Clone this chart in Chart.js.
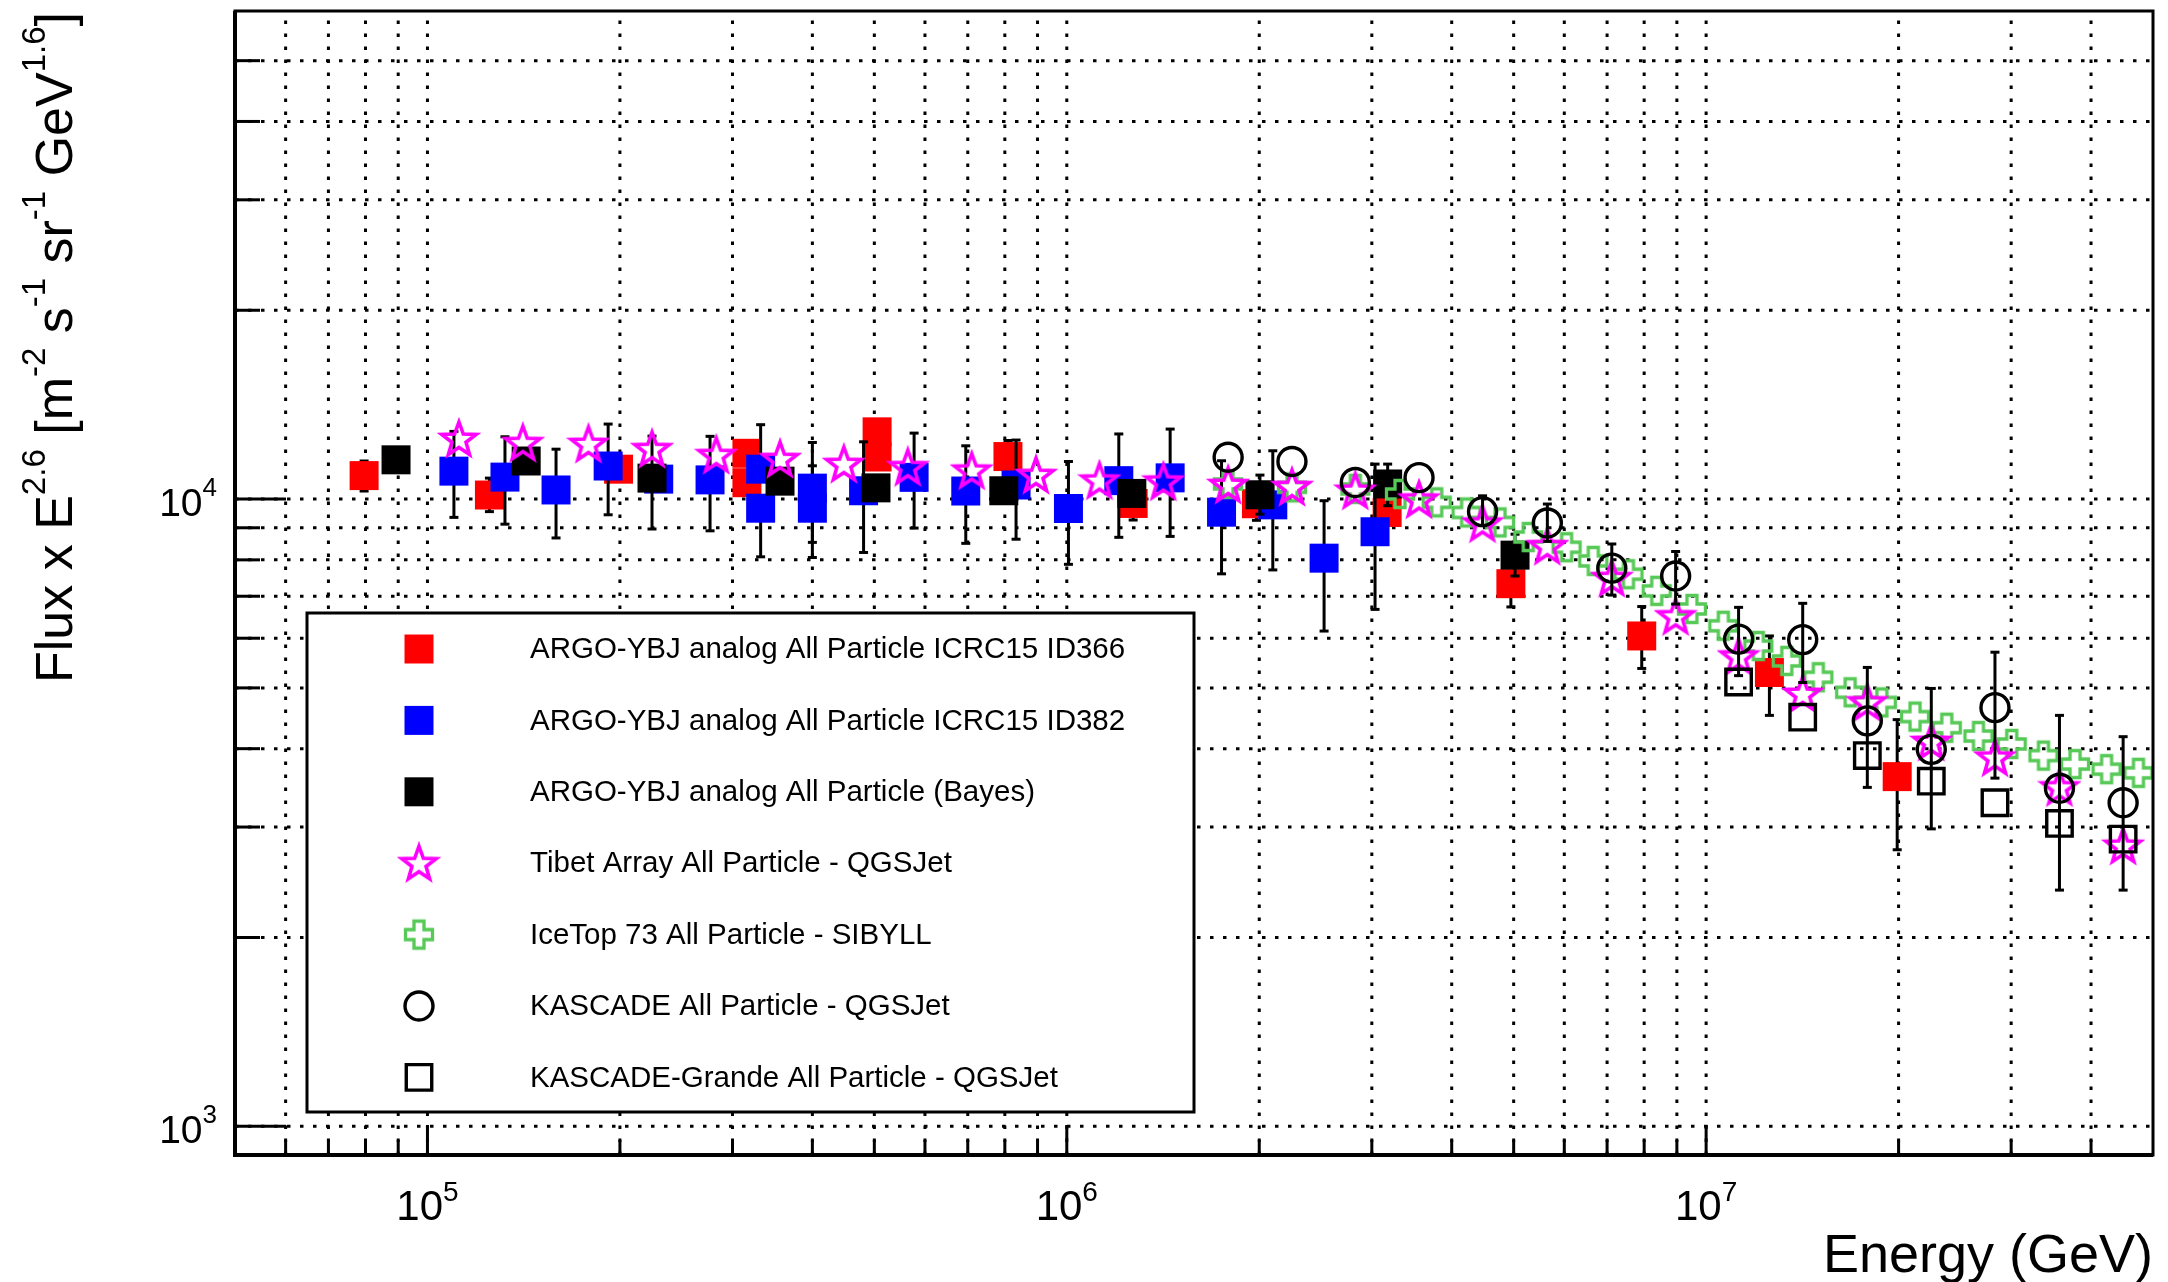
<!DOCTYPE html>
<html>
<head>
<meta charset="utf-8">
<script src="https://cdn.jsdelivr.net/npm/chart.js@4.4.0/dist/chart.umd.min.js"></script>
<style>
  html, body { margin: 0; padding: 0; background: #fff; }
</style>
</head>
<body>
<canvas id="fluxChart" width="2168" height="1282"></canvas>
<script>
// Energy in GeV, flux x E^2.6 ; lo/hi are the error bar ends (null = no bar visible)
const redE    = [7.96e4, 1.25e5, 1.99e5, 3.16e5, 3.16e5, 5.05e5, 5.05e5, 8.09e5, 1.27e6, 1.98e6, 3.17e6, 4.95e6, 7.93e6, 1.256e7, 1.99e7];
const redFlux = [10900, 10150, 11160, 11830, 10620, 12800, 11670, 11690, 9840, 9830, 9520, 7330, 6050, 5290, 3610];
const redLo   = [10300, 9550, null, null, null, null, null, null, 9260, 9250, null, 6730, 5370, 4520, 2760];
const redHi   = [11500, 10800, null, null, null, null, null, 12400, null, null, null, null, 6740, 6050, 4450];

const blueE    = [1.10e5, 1.322e5, 1.589e5, 1.917e5, 2.30e5, 2.767e5, 3.32e5, 3.32e5, 4.0e5, 4.0e5, 4.81e5, 5.77e5, 6.95e5, 8.33e5, 1.006e6, 1.206e6, 1.451e6, 1.746e6, 2.1e6, 2.526e6, 3.035e6];
const blueFlux = [11080, 10840, 10340, 11290, 10760, 10730, 11160, 9670, 10410, 9670, 10310, 10830, 10300, 10530, 9660, 10700, 10810, 9530, 9790, 8050, 8870];
const blueLo   = [9350, 9120, 8670, 9440, null, 8900, null, 8090, 8530, 8070, 8220, 8990, 8500, 8630, 7870, 8690, 8720, 7600, 7710, 6160, 6670];
const blueHi   = [12820, 12570, 12010, 13170, null, 12590, 13140, null, 12310, 11300, 12340, 12740, 12160, 12420, 11480, 12700, 12930, 11510, 11940, 9940, 11370];

const bayesE    = [8.93e4, 1.427e5, 2.245e5, 3.56e5, 5.03e5, 7.97e5, 1.264e6, 2.005e6, 3.176e6, 5.025e6];
const bayesFlux = [11550, 11500, 10800, 10680, 10420, 10310, 10210, 10160, 10570, 8140];
const bayesLo   = [null, null, 8960, null, null, null, null, 9460, 9760, 7540];
const bayesHi   = [null, null, 12600, null, null, null, null, 10920, 11370, 8790];

const tibetE    = [1.12e5, 1.41e5, 1.786e5, 2.245e5, 2.83e5, 3.56e5, 4.48e5, 5.64e5, 7.1e5, 8.95e5, 1.125e6, 1.416e6, 1.788e6, 2.25e6, 2.827e6, 3.556e6, 4.47e6, 5.645e6, 7.12e6, 8.96e6, 1.124e7, 1.416e7, 1.787e7, 2.25e7, 2.83e7, 3.57e7, 4.49e7];
const tibetFlux = [12470, 12280, 12240, 12010, 11750, 11580, 11370, 11240, 11100, 10920, 10700, 10660, 10530, 10450, 10310, 9980, 9140, 8410, 7480, 6500, 5610, 4890, 4740, 4100, 3870, 3470, 2800];

const iceTopE    = [1.787e6, 2.25e6, 2.827e6, 3.32e6, 3.79e6, 4.22e6, 4.76e6, 5.27e6, 6.05e6, 6.66e6, 7.56e6, 8.37e6, 9.50e6, 1.064e7, 1.207e7, 1.337e7, 1.498e7, 1.680e7, 1.883e7, 2.122e7, 2.379e7, 2.667e7, 3.006e7, 3.37e7, 3.776e7, 4.23e7, 4.745e7];
const iceTopFlux = [10570, 10440, 10380, 10190, 9880, 9520, 9180, 8700, 8380, 7970, 7590, 7140, 6680, 6280, 5830, 5520, 5200, 4920, 4740, 4500, 4320, 4190, 4070, 3900, 3780, 3710, 3660];

const kascadeE    = [1.788e6, 2.25e6, 2.827e6, 3.556e6, 4.47e6, 5.645e6, 7.12e6, 8.96e6, 1.124e7, 1.416e7, 1.787e7, 2.25e7, 2.83e7, 3.57e7, 4.49e7];
const kascadeFlux = [11660, 11480, 10630, 10820, 9550, 9160, 7760, 7540, 5980, 5970, 4430, 3990, 4650, 3460, 3280];
const kascadeLo   = [null, null, null, null, 9070, 8560, 7030, 6800, 5230, 5100, 3470, 2980, 3590, 2380, 2380];
const kascadeHi   = [null, null, null, null, 10120, 9820, 8480, 8250, 6720, 6820, 5390, 4990, 5700, 4520, 4180];

const grandeE    = [1.124e7, 1.416e7, 1.787e7, 2.25e7, 2.83e7, 3.57e7, 4.49e7];
const grandeFlux = [5110, 4490, 3900, 3550, 3280, 3040, 2870];

const legendLabels = [
  'ARGO-YBJ analog All Particle ICRC15 ID366',
  'ARGO-YBJ analog All Particle ICRC15 ID382',
  'ARGO-YBJ analog All Particle (Bayes)',
  'Tibet Array All Particle - QGSJet',
  'IceTop 73 All Particle - SIBYLL',
  'KASCADE All Particle - QGSJet',
  'KASCADE-Grande All Particle - QGSJet'
];
const xMajor = [1e5, 1e6, 1e7];
const yMajor = [1e3, 1e4];

const FONT = '"Liberation Sans", Arial, Helvetica, sans-serif';

// grid/tick positions: every 1..9 x 10^n inside the frame
const xGrid = [];
const yGrid = [];
for (let e = 2; e <= 7; e++) {
  for (let m = 1; m <= 9; m++) {
    const v = m * Math.pow(10, e);
    if (v > 5e4 * 1.001 && v < 5e7 * 0.999) xGrid.push(v);
    if (v > 900 * 1.001 && v < 6e4 * 0.999) yGrid.push(v);
  }
}
const isMajor = v => Math.abs(Math.log10(v) - Math.round(Math.log10(v))) < 1e-6;

const pts = (xs, ys) => xs.map((x, i) => ({ x: x, y: ys[i] }));

// open star (ROOT marker 30)
function makeStar() {
  const c = document.createElement('canvas');
  c.width = 44; c.height = 44;
  const g = c.getContext('2d');
  g.strokeStyle = '#ff00ff';
  g.lineWidth = 3.6;
  g.lineJoin = 'miter';
  g.beginPath();
  for (let k = 0; k < 10; k++) {
    const r = k % 2 === 0 ? 18 : 7.4;
    const a = -Math.PI / 2 + k * Math.PI / 5;
    const px = 22 + r * Math.cos(a), py = 23 + r * Math.sin(a);
    if (k === 0) g.moveTo(px, py); else g.lineTo(px, py);
  }
  g.closePath();
  g.stroke();
  return c;
}
// open cross (ROOT marker 28)
function makeCross() {
  const c = document.createElement('canvas');
  c.width = 36; c.height = 36;
  const g = c.getContext('2d');
  g.strokeStyle = '#57c957';
  g.lineWidth = 3.3;
  const h = 13.5, a = 5, o = 18;
  const p = [[-a,-h],[a,-h],[a,-a],[h,-a],[h,a],[a,a],[a,h],[-a,h],[-a,a],[-h,a],[-h,-a],[-a,-a]];
  g.beginPath();
  p.forEach((q, i) => i ? g.lineTo(o + q[0], o + q[1]) : g.moveTo(o + q[0], o + q[1]));
  g.closePath();
  g.stroke();
  return c;
}
const starImg = makeStar();
const crossImg = makeCross();

const datasets = [
  { label: legendLabels[0], data: pts(redE, redFlux), errLo: redLo, errHi: redHi, order: 7,
    pointStyle: 'rect', pointRadius: 20.5, backgroundColor: '#ff0000', borderWidth: 0 },
  { label: legendLabels[1], data: pts(blueE, blueFlux), errLo: blueLo, errHi: blueHi, order: 6,
    pointStyle: 'rect', pointRadius: 20.5, backgroundColor: '#0000ff', borderWidth: 0 },
  { label: legendLabels[2], data: pts(bayesE, bayesFlux), errLo: bayesLo, errHi: bayesHi, order: 5,
    pointStyle: 'rect', pointRadius: 20.5, backgroundColor: '#000000', borderWidth: 0 },
  { label: legendLabels[3], data: pts(tibetE, tibetFlux), order: 3,
    pointStyle: starImg, pointRadius: 18 },
  { label: legendLabels[4], data: pts(iceTopE, iceTopFlux), order: 4,
    pointStyle: crossImg, pointRadius: 15 },
  { label: legendLabels[5], data: pts(kascadeE, kascadeFlux), errLo: kascadeLo, errHi: kascadeHi, order: 2,
    pointStyle: 'circle', pointRadius: 14, backgroundColor: 'rgba(0,0,0,0)', borderColor: '#000', borderWidth: 3.4 },
  { label: legendLabels[6], data: pts(grandeE, grandeFlux), order: 1,
    pointStyle: 'rect', pointRadius: 18, backgroundColor: 'rgba(0,0,0,0)', borderColor: '#000', borderWidth: 3.4 }
];

function line(ctx, x1, y1, x2, y2) {
  ctx.beginPath(); ctx.moveTo(x1, y1); ctx.lineTo(x2, y2); ctx.stroke();
}

function drawPow(ctx, exp, x, y, size, supSize, raise, align) {
  ctx.font = size + 'px ' + FONT;
  const w1 = ctx.measureText('10').width;
  ctx.font = supSize + 'px ' + FONT;
  const w2 = ctx.measureText(exp).width;
  const x0 = align === 'center' ? x - (w1 + w2) / 2 : x - (w1 + w2);
  ctx.textAlign = 'left';
  ctx.textBaseline = 'alphabetic';
  ctx.font = size + 'px ' + FONT;
  ctx.fillText('10', x0, y);
  ctx.font = supSize + 'px ' + FONT;
  ctx.fillText(exp, x0 + w1, y - raise);
}

function drawMarker(ctx, ds, x, y) {
  const st = ds.pointStyle, r = ds.pointRadius;
  if (st instanceof HTMLCanvasElement) {
    ctx.drawImage(st, x - st.width / 2, y - st.height / 2);
    return;
  }
  ctx.fillStyle = ds.backgroundColor;
  ctx.strokeStyle = ds.borderColor || '#000';
  ctx.lineWidth = ds.borderWidth;
  ctx.beginPath();
  if (st === 'circle') ctx.arc(x, y, r, 0, Math.PI * 2);
  else { const s = Math.SQRT1_2 * r; ctx.rect(x - s, y - s, 2 * s, 2 * s); }
  ctx.fill();
  if (ds.borderWidth > 0) ctx.stroke();
}

const rootStyle = {
  id: 'rootStyle',
  beforeDatasetsDraw(chart) {
    const { ctx, chartArea: a, scales: { x, y } } = chart;
    ctx.save();
    ctx.strokeStyle = '#000';
    ctx.lineWidth = 3;
    ctx.setLineDash([3.5, 9.5]);
    xGrid.forEach(v => { const px = x.getPixelForValue(v); line(ctx, px, a.bottom, px, a.top); });
    yGrid.forEach(v => { const py = y.getPixelForValue(v); line(ctx, a.left, py, a.right, py); });
    ctx.setLineDash([]);
    ctx.lineWidth = 3;
    xGrid.forEach(v => { const px = x.getPixelForValue(v); line(ctx, px, a.bottom, px, a.bottom - (isMajor(v) ? 30 : 15)); });
    yGrid.forEach(v => { const py = y.getPixelForValue(v); line(ctx, a.left, py, a.left + (isMajor(v) ? 51 : 25), py); });
    ctx.restore();
  },
  beforeDatasetDraw(chart, args) {
    const ds = chart.data.datasets[args.index];
    if (!ds.errLo) return;
    const { ctx, scales: { x, y } } = chart;
    ctx.save();
    ctx.strokeStyle = '#000';
    ctx.lineWidth = 3;
    ds.data.forEach((p, i) => {
      const lo = ds.errLo[i], hi = ds.errHi[i];
      if (lo == null && hi == null) return;
      const px = x.getPixelForValue(p.x);
      const y1 = y.getPixelForValue(lo == null ? p.y : lo);
      const y2 = y.getPixelForValue(hi == null ? p.y : hi);
      line(ctx, px, y1, px, y2);
      if (lo != null) line(ctx, px - 4.5, y1, px + 4.5, y1);
      if (hi != null) line(ctx, px - 4.5, y2, px + 4.5, y2);
    });
    ctx.restore();
  },
  afterDatasetsDraw(chart) {
    const ctx = chart.ctx;
    ctx.save();
    // legend box
    ctx.fillStyle = '#fff';
    ctx.fillRect(307, 613, 887, 499);
    ctx.strokeStyle = '#000';
    ctx.lineWidth = 3;
    ctx.strokeRect(307, 613, 887, 499);
    chart.data.datasets.forEach((ds, i) => {
      const yy = 649 + i * 71.4;
      drawMarker(ctx, ds, 419, yy);
      ctx.fillStyle = '#000';
      ctx.font = '29.5px ' + FONT;
      ctx.textAlign = 'left';
      ctx.textBaseline = 'middle';
      ctx.fillText(ds.label, 530, yy + 1);
    });
    ctx.restore();
  },
  afterDraw(chart) {
    const { ctx, chartArea: a, scales: { x, y } } = chart;
    ctx.save();
    ctx.strokeStyle = '#000';
    ctx.lineWidth = 3;
    ctx.strokeRect(a.left, a.top, a.right - a.left, a.bottom - a.top);
    ctx.lineWidth = 4;
    line(ctx, a.left, a.top, a.left, a.bottom + 2);
    line(ctx, a.left - 2, a.bottom, a.right, a.bottom);
    ctx.fillStyle = '#000';
    xMajor.forEach(v => drawPow(ctx, String(Math.round(Math.log10(v))), x.getPixelForValue(v), 1220, 42, 28, 19, 'center'));
    yMajor.forEach(v => drawPow(ctx, String(Math.round(Math.log10(v))), 217, y.getPixelForValue(v) + 17, 39, 26, 20, 'right'));
    // x title
    ctx.font = '54px ' + FONT;
    ctx.textAlign = 'right';
    ctx.textBaseline = 'alphabetic';
    ctx.fillText('Energy (GeV)', a.right, 1272);
    // y title, rotated, with superscripts
    const segs = [['Flux x E', 0], ['2.6', 1], [' [m', 0], ['-2', 1], [' s', 0], ['-1', 1], [' sr', 0], ['-1', 1], [' GeV', 0], ['1.6', 1], [']', 0]];
    const big = 52, small = 33, raise = 27;
    let total = 0;
    segs.forEach(s => { ctx.font = (s[1] ? small : big) + 'px ' + FONT; total += ctx.measureText(s[0]).width; });
    ctx.translate(72, 12 + total);
    ctx.rotate(-Math.PI / 2);
    ctx.textAlign = 'left';
    let cx = 0;
    segs.forEach(s => {
      ctx.font = (s[1] ? small : big) + 'px ' + FONT;
      ctx.fillText(s[0], cx, s[1] ? -raise : 0);
      cx += ctx.measureText(s[0]).width;
    });
    ctx.restore();
  }
};

new Chart(document.getElementById('fluxChart'), {
  type: 'scatter',
  data: { datasets: datasets },
  options: {
    responsive: false,
    animation: false,
    events: [],
    layout: { autoPadding: false, padding: { left: 235, top: 11, right: 15, bottom: 127 } },
    scales: {
      x: { type: 'logarithmic', min: 5e4, max: 5e7, display: false },
      y: { type: 'logarithmic', min: 900, max: 6e4, display: false }
    },
    plugins: { legend: { display: false }, tooltip: { enabled: false } }
  },
  plugins: [rootStyle]
});
</script>
</body>
</html>
